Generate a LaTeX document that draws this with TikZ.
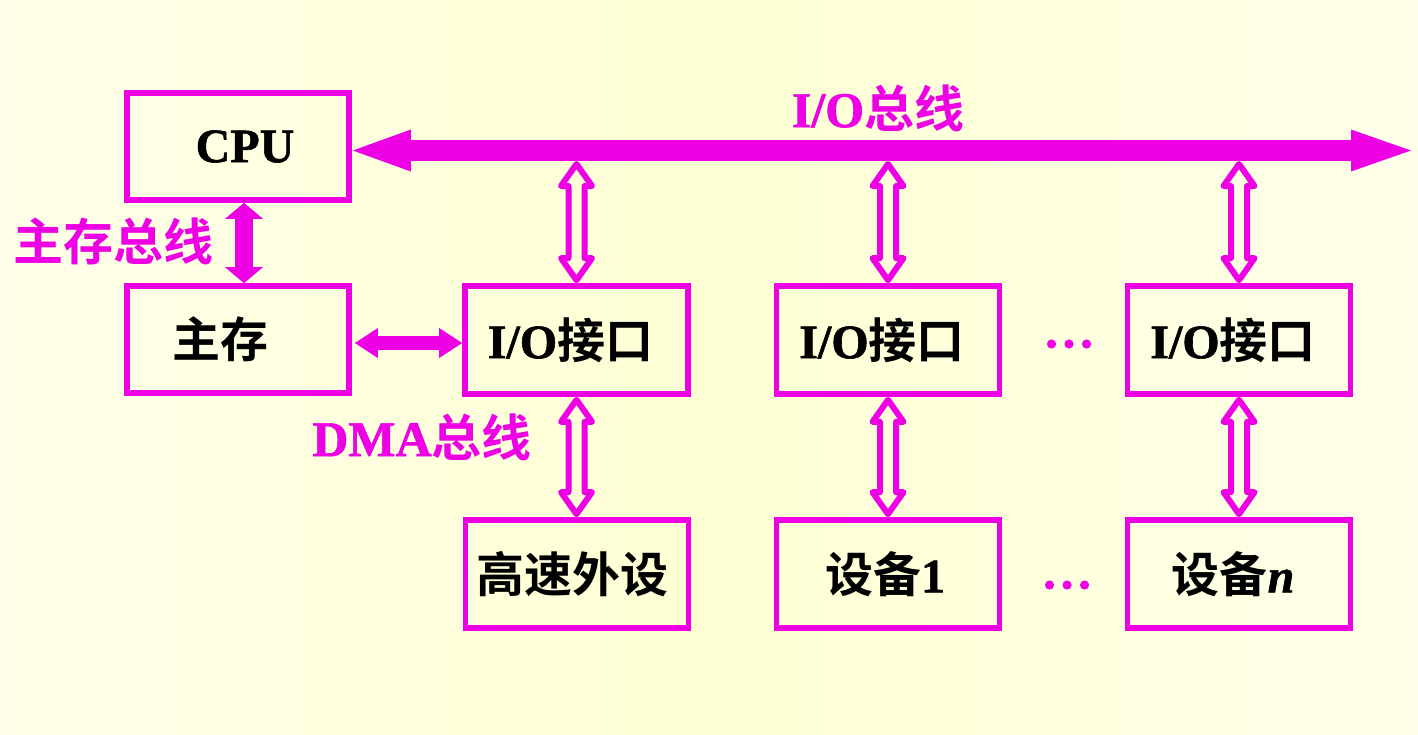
\documentclass[tikz,border=0pt]{standalone}
\usepackage{fontspec}
\setmainfont{Liberation Serif}[
  BoldFont={Liberation Serif Bold},
  BoldFeatures={FakeBold=1.2},
  ItalicFont={Liberation Serif Italic},
  BoldItalicFont={Liberation Serif Bold Italic},
  BoldItalicFeatures={FakeBold=1.2}]
\newfontfamily\cjk{Noto Sans CJK SC}[BoldFont={Noto Sans CJK SC Bold}]
\usetikzlibrary{arrows.meta,calc}
\definecolor{busmag}{RGB}{238,0,228}
\definecolor{paperlight}{RGB}{255,255,234}
\definecolor{paper}{RGB}{255,255,212}

% Outlined double-headed block arrow between a top point and a bottom point
\newcommand\hollowlink[2]{%
  \draw[hollow] let \p1=(#1), \p2=(#2) in
    (\x1,{\y1-3pt}) -- ({\x1+15.5pt},{\y1-25pt}) -- ({\x1+8pt},{\y1-25pt})
    -- ({\x1+8pt},{\y2+25pt}) -- ({\x1+15.5pt},{\y2+25pt}) -- (\x1,{\y2+3pt})
    -- ({\x1-15.5pt},{\y2+25pt}) -- ({\x1-8pt},{\y2+25pt})
    -- ({\x1-8pt},{\y1-25pt}) -- ({\x1-15.5pt},{\y1-25pt}) -- cycle;}

\begin{document}
\begin{tikzpicture}[x=1pt,y=-1pt,
  unit/.style={draw=busmag,line width=5.7pt,minimum width=223pt,minimum height=108pt,
    inner sep=0pt,text=black,font=\fontsize{48}{50}\selectfont\bfseries},
  tag/.style={text=busmag,inner sep=0pt,font=\fontsize{50}{52}\selectfont\bfseries},
  dots/.style={text=busmag,inner sep=0pt,font=\fontsize{52}{54}\selectfont\bfseries},
  hollow/.style={draw=busmag,line width=6pt,line join=round},
  solidbus/.style={busmag,line width=#1}]

% paper background
\useasboundingbox (0,0) rectangle (1418,734);
\shade[left color=paperlight,right color=paperlight,middle color=paper] (0,0) rectangle (1418,734);

% boxes (the \hspace* nudges the label sideways inside its box)
\node[unit,minimum width=222pt,minimum height=107pt] (cpu) at (238,146.5) {\hspace*{14pt}CPU};
\node[unit,minimum width=222pt,minimum height=107pt] (mm) at (238,339.5) {\hspace*{-36pt}{\cjk 主存}};
\node[unit] (io1) at (576.5,340) {\hspace*{-12pt}I/O{\cjk 接口}};
\node[unit] (io2) at (888,340) {\hspace*{-12pt}I/O{\cjk 接口}};
\node[unit] (io3) at (1239,340) {\hspace*{-12pt}I/O{\cjk 接口}};
\node[unit] (hs) at (577,574) {\hspace*{-9pt}{\cjk 高速外设}};
\node[unit] (d1) at (888,574) {\hspace*{-6pt}{\cjk 设备}1};
\node[unit] (dn) at (1239,574) {\hspace*{-12pt}{\cjk 设备}\textit{n}};

% bus labels
\node[tag] (iobus) at (878,108) {I/O{\cjk 总线}};
\node[tag] (mmbus) at (113,241) {{\cjk 主存总线}};
\node[tag] (dmabus) at (422,437) {DMA{\cjk 总线}};

% ellipses between columns
\node[dots] (dotsa) at (1069,344) {…};
\node[dots] (dotsb) at (1067,585) {…};

% I/O bus
\coordinate (busend) at (1411,150.5);
\coordinate (busbot) at (0,161);
\draw[solidbus=21pt,{Triangle[length=58pt,width=42pt,line width=0pt]}-{Triangle[length=60pt,width=42pt,line width=0pt]}]
  ($(cpu.east)+(1,4)$) -- (busend);

% main memory bus and DMA bus
\draw[solidbus=18pt,{Triangle[length=16pt,width=38pt,line width=0pt]}-{Triangle[length=16pt,width=38pt,line width=0pt]}]
  ($(cpu.south)+(6,0)$) -- ($(mm.north)+(6,0)$);
\draw[solidbus=14pt,{Triangle[length=23pt,width=30pt,line width=0pt]}-{Triangle[length=23pt,width=30pt,line width=0pt]}]
  ($(mm.east)+(3,3.5)$) -- ($(io1.west)+(0,3)$);

% links from the bus to the interfaces, and from interfaces to devices
\hollowlink{io1.north |- busbot}{io1.north}
\hollowlink{io2.north |- busbot}{io2.north}
\hollowlink{io3.north |- busbot}{io3.north}
\hollowlink{io1.south}{hs.north}
\hollowlink{io2.south}{d1.north}
\hollowlink{io3.south}{dn.north}

\end{tikzpicture}
\end{document}
